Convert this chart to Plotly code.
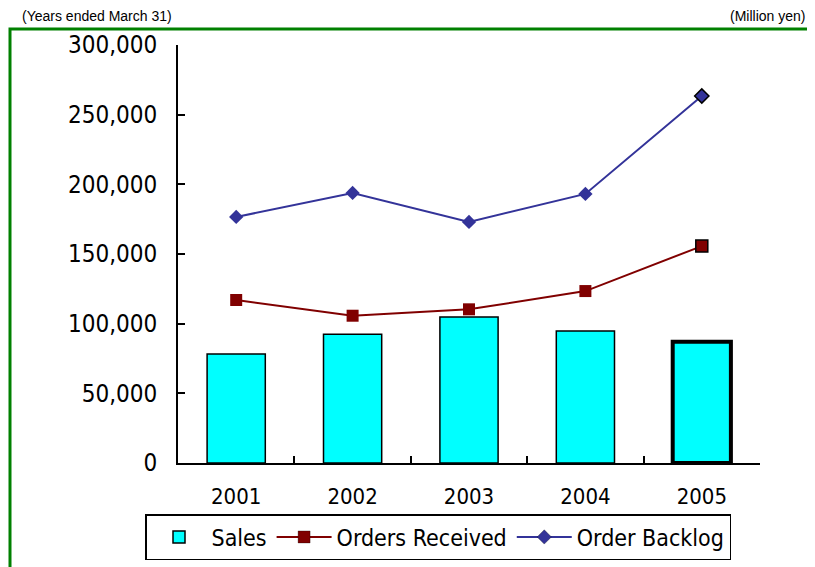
import plotly.graph_objects as go

years = ["2001", "2002", "2003", "2004", "2005"]
sales = [78200, 92400, 104800, 94700, 87000]
orders_received = [117000, 105700, 110300, 123400, 155700]
order_backlog = [176600, 193800, 173000, 193100, 263400]
y_ticks = [0, 50000, 100000, 150000, 200000, 250000, 300000]
y_tick_labels = ["0", "50,000", "100,000", "150,000", "200,000", "250,000", "300,000"]

OFF = 8  # default page body margin
W, H = 815 - OFF, 567 - OFF
L, T = 178 - OFF, 45 - OFF
pw, ph = 582, 418
R, B = W - L - pw, H - T - ph

def px(x):  # page pixel -> paper x
    return (x - OFF - L) / pw

def py(y):  # page pixel -> paper y
    return (T + ph - (y - OFF)) / ph

FONT = "DejaVu Sans Condensed, Liberation Sans, Arial, sans-serif"
FONT2 = "Liberation Sans, Arial, sans-serif"

fig = go.Figure()
fig.add_trace(go.Bar(
    x=years, y=sales, name="Sales",
    marker=dict(color="#00FFFF", line=dict(color="black", width=[1.5, 1.5, 1.5, 1.5, 4])),
))
fig.add_trace(go.Scatter(
    x=years, y=orders_received, name="Orders Received", mode="lines+markers",
    line=dict(color="#800000", width=2),
    marker=dict(symbol="square", size=12, color="#800000",
                line=dict(color="black", width=[0, 0, 0, 0, 1.5])),
))
fig.add_trace(go.Scatter(
    x=years, y=order_backlog, name="Order Backlog", mode="lines+markers",
    line=dict(color="#333399", width=2),
    marker=dict(symbol="diamond", size=11, color="#333399",
                line=dict(color="black", width=[0, 0, 0, 0, 1.5])),
))

fig.update_layout(
    width=W, height=H,
    margin=dict(l=L, r=R, t=T, b=B, autoexpand=False),
    paper_bgcolor="white", plot_bgcolor="white",
    font=dict(family=FONT, size=24, color="black"),
    bargap=0.5,
    showlegend=True,
    legend=dict(orientation="h", x=px(438), xanchor="center", y=py(514), yanchor="top",
                bordercolor="black", borderwidth=1.5, bgcolor="white",
                font=dict(family=FONT, size=23), itemwidth=55, tracegroupgap=0),
    xaxis=dict(showline=True, linecolor="black", linewidth=2, ticks="inside", ticklen=7,
               tickcolor="black", tickwidth=2, tickson="boundaries", showgrid=False,
               ticklabelstandoff=13, tickfont=dict(size=22)),
    yaxis=dict(range=[0, 300000], tickvals=y_ticks, ticktext=y_tick_labels,
               showline=True, linecolor="black", linewidth=2, ticks="inside", ticklen=7,
               tickcolor="black", tickwidth=2, showgrid=False, zeroline=False,
               ticklabelstandoff=14, tickfont=dict(size=24)),
    shapes=[dict(type="rect", xref="paper", yref="paper",
                 x0=px(10), x1=px(900), y0=py(29), y1=py(700),
                 line=dict(color="#008000", width=3), fillcolor="rgba(0,0,0,0)", layer="below")],
    annotations=[
        dict(text="(Years ended March 31)", xref="paper", yref="paper",
             x=px(20), y=py(26), xanchor="left", yanchor="bottom", showarrow=False,
             font=dict(family=FONT2, size=14)),
        dict(text="(Million yen)", xref="paper", yref="paper",
             x=px(807), y=py(26), xanchor="right", yanchor="bottom", showarrow=False,
             font=dict(family=FONT2, size=14)),
    ],
)

fig.write_html("out.html")
